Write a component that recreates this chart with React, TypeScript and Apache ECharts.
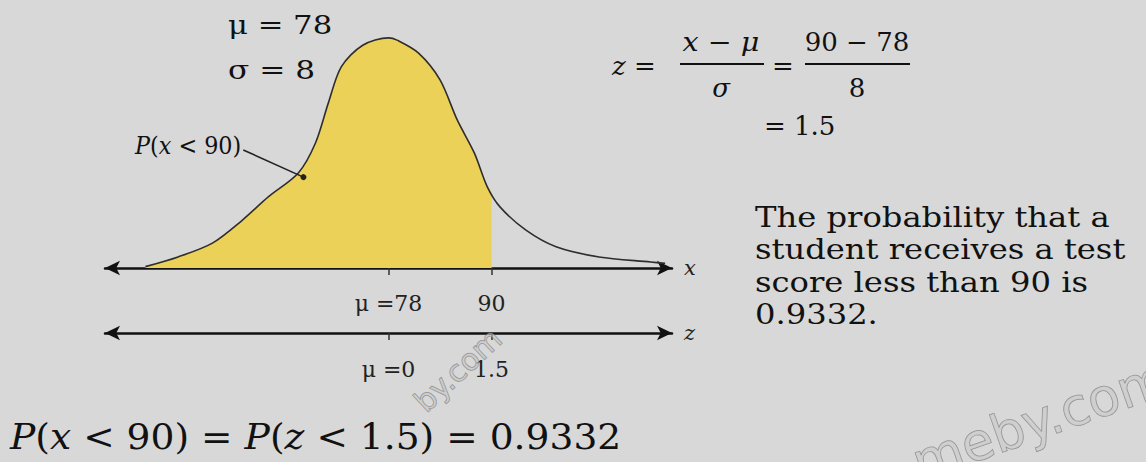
import React, { useEffect, useRef } from "react";
import * as echarts from "echarts";

// Curve (x in score units, y in density units)
const curveX = [49.7, 53.5, 57.5, 61, 64, 67.5, 69.5, 71, 72.5, 75, 78, 79, 81.5, 84, 86, 88, 89.5, 91, 94, 97.5, 102.5, 108.5, 110.2];
const curveY = [0.0003, 0.0024, 0.0054, 0.0104, 0.0154, 0.0206, 0.0271, 0.0358, 0.0436, 0.0483, 0.0499, 0.0494, 0.0466, 0.0408, 0.0321, 0.0249, 0.0176, 0.0132, 0.0082, 0.0046, 0.0024, 0.0013, 0.001];
const cutoffX = 90;
const cutoffY = 0.0166;
const mu = 78;
const xTicks = [78, 90];
const xTickLabels = ["μ =78", "90"];
const zTicks = [0, 1.5];
const zTickLabels = ["μ =0", "1.5"];
const leaderStart = [61.1, 0.0256];
const leaderEnd = [68.1, 0.0197];
const paragraph = [
  "The probability that a",
  "student receives a test",
  "score less than 90 is",
  "0.9332.",
];

const SERIF = '"DejaVu Serif", "Liberation Serif", serif';

export default function App() {
  const ref = useRef<HTMLDivElement>(null);
  useEffect(() => {
    if (!ref.current) return;
    const chart = echarts.init(ref.current, undefined, { renderer: "svg" });
    const curve = curveX.map((x, i) => [x, curveY[i]]);
    const shaded = curve.filter((p) => p[0] < cutoffX).concat([[cutoffX, cutoffY]]);

    const txt = (text: string, x: number, y: number, size: number, extra: any = {}) => ({
      type: "text",
      x,
      y,
      z: 10,
      scaleX: extra.scaleX || 1,
      style: {
        text,
        fontSize: size,
        fontFamily: SERIF,
        fill: "#111",
        align: extra.align || "left",
        verticalAlign: "middle",
        rich: {
          i: { fontStyle: "italic", fontSize: size, fontFamily: SERIF, fill: "#111" },
        },
      },
    });

    const axisCommon = {
      type: "value",
      splitLine: { show: false },
      axisLine: {
        show: true,
        onZero: false,
        symbol: ["arrow", "arrow"],
        symbolSize: [11, 15],
        lineStyle: { color: "#111", width: 2.5 },
      },
      nameLocation: "end",
      nameGap: 12,
      nameTextStyle: { fontStyle: "italic", fontSize: 21, fontFamily: SERIF, color: "#222" },
    };

    chart.setOption({
      animation: false,
      backgroundColor: "#d8d8d8",
      grid: [
        { left: 105, right: 474, top: 30, bottom: 194 },
        { left: 105, right: 474, top: 300, bottom: 129 },
      ],
      xAxis: [
        {
          ...axisCommon,
          gridIndex: 0,
          min: 45,
          max: 111,
          position: "bottom",
          name: "x",
          axisTick: { show: true, customValues: xTicks, length: 7, lineStyle: { color: "#333", width: 1.5 } },
          axisLabel: {
            customValues: xTicks,
            formatter: (v: number) => xTickLabels[xTicks.indexOf(v)] ?? "",
            margin: 24,
            fontSize: 22,
            fontFamily: SERIF,
            color: "#222",
          },
        },
        {
          ...axisCommon,
          gridIndex: 1,
          min: (45 - mu) / 8,
          max: (111 - mu) / 8,
          position: "bottom",
          name: "z",
          axisTick: { show: true, customValues: zTicks, length: 7, lineStyle: { color: "#333", width: 1.5 } },
          axisLabel: {
            customValues: zTicks,
            formatter: (v: number) => zTickLabels[zTicks.indexOf(v)] ?? "",
            margin: 25,
            fontSize: 22,
            fontFamily: SERIF,
            color: "#222",
          },
        },
      ],
      yAxis: [
        { type: "value", gridIndex: 0, min: 0, max: 0.0516, show: false },
        { type: "value", gridIndex: 1, min: 0, max: 1, show: false },
      ],
      series: [
        {
          type: "line",
          xAxisIndex: 0,
          yAxisIndex: 0,
          data: shaded,
          smooth: 0.3,
          showSymbol: false,
          lineStyle: { width: 0 },
          areaStyle: { color: "#ebd157", opacity: 1 },
          z: 2,
          silent: true,
        },
        {
          type: "line",
          xAxisIndex: 0,
          yAxisIndex: 0,
          data: curve,
          smooth: 0.3,
          showSymbol: false,
          lineStyle: { color: "#2e2e2e", width: 1.6 },
          z: 3,
          silent: true,
          markLine: {
            silent: true,
            symbol: ["none", "circle"],
            symbolSize: 6,
            label: { show: false },
            lineStyle: { color: "#222", width: 1.6, type: "solid" },
            data: [[{ coord: leaderStart }, { coord: leaderEnd }]],
          },
        },
      ],
      graphic: [
        txt("s than 90.", 0, -10, 28),
        txt("μ = 78", 228, 25, 26, { scaleX: 1.18 }),
        txt("σ = 8", 228, 70, 26, { scaleX: 1.2 }),
        txt("{i|P}({i|x} < 90)", 135, 145, 24, { scaleX: 0.93 }),
        // formula
        txt("{i|z} =", 612, 66, 26),
        txt("{i|x} − {i|μ}", 721, 42, 26, { align: "center", scaleX: 1.1 }),
        { type: "line", z: 10, shape: { x1: 680, y1: 64, x2: 764, y2: 64 }, style: { stroke: "#111", lineWidth: 1.8 } },
        txt("{i|σ}", 721, 88, 26, { align: "center" }),
        txt("=", 772, 66, 26),
        txt("90 − 78", 857, 42, 26, { align: "center" }),
        { type: "line", z: 10, shape: { x1: 805, y1: 64, x2: 910, y2: 64 }, style: { stroke: "#111", lineWidth: 1.8 } },
        txt("8", 857, 88, 26, { align: "center" }),
        txt("= 1.5", 764, 126, 26),
        // paragraph
        ...paragraph.map((line, i) => txt(line, 755, 217 + i * 32.5, 28, { scaleX: 1.15 })),
        // bottom equation
        txt("{i|P}({i|x} < 90) = {i|P}({i|z} < 1.5) = 0.9332", 10, 437, 36, { scaleX: 1.045 }),
        // watermarks
        {
          type: "text",
          x: 458,
          y: 370,
          rotation: 0.75,
          z: 20,
          style: {
            text: "by.com",
            fontSize: 30,
            fontFamily: "DejaVu Sans",
            fill: "rgba(200,200,200,0.55)",
            stroke: "rgba(110,110,110,0.7)",
            lineWidth: 1,
            align: "center",
            verticalAlign: "middle",
          },
        },
        {
          type: "text",
          x: 1040,
          y: 420,
          rotation: 0.34,
          z: 20,
          style: {
            text: "meby.com",
            fontSize: 52,
            fontFamily: "DejaVu Sans",
            fill: "rgba(200,200,200,0.55)",
            stroke: "rgba(110,110,110,0.7)",
            lineWidth: 1,
            align: "center",
            verticalAlign: "middle",
          },
        },
      ],
    });
    return () => chart.dispose();
  }, []);
  return <div ref={ref} style={{ position: "absolute", left: 0, top: 0, width: 1146, height: 462 }} />;
}
